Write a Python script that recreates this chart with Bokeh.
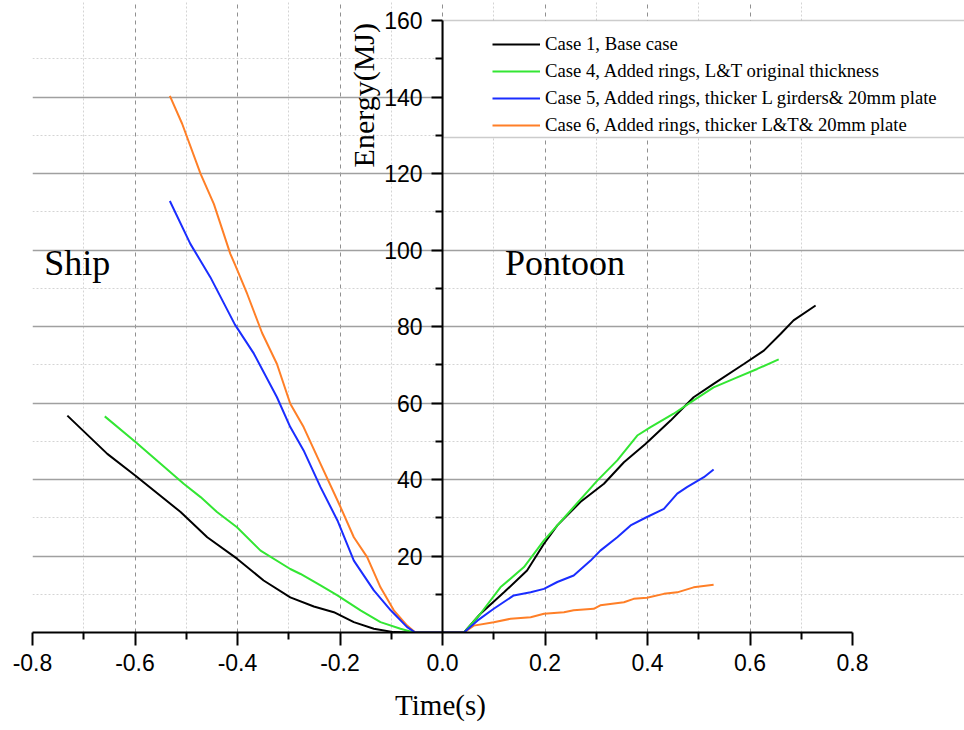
import math
from bokeh.plotting import figure
from bokeh.models import (Range1d, FixedTicker, PrintfTickFormatter, Legend, LegendItem,
                          Label, BoxAnnotation)
from bokeh.embed import file_html
from bokeh.resources import INLINE

# ---------------- data ----------------
case1_x = [-0.732, -0.654, -0.599, -0.511, -0.459, -0.401, -0.349, -0.297, -0.251, -0.212,
           -0.173, -0.134, -0.095, -0.056, 0.042, 0.074, 0.120, 0.165, 0.198, 0.224, 0.269,
           0.315, 0.354, 0.396, 0.445, 0.490, 0.529, 0.588, 0.627, 0.660, 0.685, 0.728]
case1_y = [56.7, 46.7, 41.0, 31.5, 24.9, 19.3, 13.6, 9.2, 6.8, 5.3,
           2.7, 1.0, 0.1, 0.0, 0.0, 4.9, 10.5, 16.2, 23.2, 28.0, 34.1,
           38.9, 44.5, 49.3, 55.4, 61.5, 65.0, 70.2, 73.7, 78.1, 81.6, 85.5]

case4_x = [-0.659, -0.599, -0.550, -0.505, -0.472, -0.440, -0.401, -0.355, -0.297, -0.277,
           -0.238, -0.205, -0.160, -0.121, -0.082, -0.056, 0.042, 0.074, 0.113, 0.159, 0.198,
           0.250, 0.302, 0.341, 0.380, 0.406, 0.451, 0.490, 0.529, 0.575, 0.614, 0.656]
case4_y = [56.5, 49.8, 44.1, 38.9, 35.4, 31.5, 27.5, 21.4, 16.6, 15.3,
           12.3, 9.7, 5.8, 2.7, 1.0, 0.0, 0.0, 4.9, 11.8, 17.1, 24.1,
           31.9, 39.7, 45.0, 51.5, 53.7, 57.2, 60.7, 64.1, 66.7, 68.9, 71.4]

case5_x = [-0.532, -0.492, -0.453, -0.405, -0.368, -0.323, -0.297, -0.271, -0.238, -0.205,
           -0.173, -0.134, -0.101, -0.069, -0.053, 0.042, 0.068, 0.100, 0.139, 0.172, 0.198,
           0.224, 0.256, 0.289, 0.308, 0.341, 0.367, 0.396, 0.432, 0.458, 0.477, 0.510, 0.529]
case5_y = [112.8, 101.6, 92.9, 80.5, 72.9, 61.5, 53.7, 47.6, 38.0, 29.3,
           18.8, 11.0, 5.8, 1.4, 0.0, 0.0, 3.1, 6.2, 9.7, 10.5, 11.4,
           13.2, 14.9, 18.8, 21.4, 24.9, 28.0, 30.0, 32.3, 36.3, 38.0, 40.6, 42.6]

case6_x = [-0.532, -0.508, -0.472, -0.446, -0.414, -0.404, -0.381, -0.352, -0.323, -0.297,
           -0.271, -0.238, -0.199, -0.173, -0.147, -0.121, -0.095, -0.069, -0.053, 0.042,
           0.061, 0.100, 0.133, 0.172, 0.198, 0.237, 0.256, 0.295, 0.308, 0.354, 0.373,
           0.399, 0.432, 0.458, 0.490, 0.529]
case6_y = [140.3, 133.0, 119.9, 112.0, 99.0, 95.9, 88.5, 78.3, 70.2, 59.8,
           53.7, 44.1, 32.8, 24.9, 19.7, 11.8, 5.8, 1.8, 0.0, 0.0,
           1.8, 2.7, 3.6, 4.0, 4.9, 5.3, 5.8, 6.2, 7.1, 7.9, 8.8,
           9.1, 10.1, 10.5, 11.8, 12.5]

labels = ["Case 1, Base case",
          "Case 4, Added rings, L&T original thickness",
          "Case 5, Added rings, thicker L girders& 20mm plate",
          "Case 6, Added rings, thicker L&T& 20mm plate"]
colors = ["#000000", "#33e633", "#1a2dff", "#ff7f27"]

x_major = [-0.8, -0.6, -0.4, -0.2, 0.0, 0.2, 0.4, 0.6, 0.8]
x_minor = [-0.7, -0.5, -0.3, -0.1, 0.1, 0.3, 0.5, 0.7]
y_major = [20, 40, 60, 80, 100, 120, 140, 160]
y_minor = [10, 30, 50, 70, 90, 110, 130, 150]
xgrid_major = [-0.6, -0.4, -0.2, 0.0, 0.2, 0.4, 0.6]
ygrid_major = [20, 40, 60, 80, 100, 120, 140]

X_MIN, X_MAX = -0.8, 0.8
Y_MIN, Y_MAX = 0, 160

# ---------------- figure ----------------
# the frame runs to the right and top edges so the legend and the "160" label are not clipped;
# axis bounds (and therefore the grids) stop at the data limits
p = figure(width=964, height=730, output_backend="svg", toolbar_location=None,
           x_range=Range1d(X_MIN, X_MIN + 932 / 512.5), y_range=Range1d(Y_MIN, Y_MAX + 20 / 3.825),
           min_border_left=32, min_border_right=0, min_border_top=0, min_border_bottom=98)
p.outline_line_color = None
p.background_fill_color = "white"

# x axis
xa = p.xaxis[0]
xa.bounds = (X_MIN, X_MAX)
xa.ticker = FixedTicker(ticks=x_major, minor_ticks=x_minor)
xa.formatter = PrintfTickFormatter(format="%.1f")
xa.axis_line_width = 2
xa.axis_line_color = "black"
xa.major_tick_line_width = 2
xa.minor_tick_line_width = 2
xa.major_tick_out = 13
xa.major_tick_in = 0
xa.minor_tick_out = 7
xa.minor_tick_in = 0
xa.major_label_text_font = "Liberation Sans"
xa.major_label_text_font_size = "23px"
xa.major_label_text_color = "black"
xa.major_label_standoff = 8
# the axis title is centred on the (wider) frame; trailing no-break spaces move the
# visible text so that it is centred under x = 0 as in the reference
xa.axis_label = "Time(s)" + "\u00a0" * 16
xa.axis_label_text_font = "Liberation Serif"
xa.axis_label_text_font_size = "29px"
xa.axis_label_text_font_style = "normal"
xa.axis_label_text_color = "black"
xa.axis_label_standoff = 15

# y axis at x = 0
ya = p.yaxis[0]
ya.fixed_location = 0
ya.bounds = (Y_MIN, Y_MAX)
ya.ticker = FixedTicker(ticks=y_major, minor_ticks=y_minor)
ya.axis_line_width = 2
ya.axis_line_color = "black"
ya.major_tick_line_width = 2
ya.minor_tick_line_width = 2
ya.major_tick_out = 11
ya.major_tick_in = 0
ya.minor_tick_out = 7
ya.minor_tick_in = 0
ya.major_label_text_font = "Liberation Sans"
ya.major_label_text_font_size = "23px"
ya.major_label_text_color = "black"
ya.major_label_standoff = 9

# grids
p.xgrid.ticker = FixedTicker(ticks=xgrid_major, minor_ticks=x_minor)
p.xgrid.grid_line_color = "#909090"
p.xgrid.grid_line_dash = "4 4"
p.xgrid.grid_line_width = 1
p.xgrid.minor_grid_line_color = "#d4d4d4"
p.xgrid.minor_grid_line_dash = "2 2"
p.xgrid.minor_grid_line_width = 1

p.ygrid.ticker = FixedTicker(ticks=ygrid_major, minor_ticks=y_minor)
p.ygrid.grid_line_color = "#a0a0a0"
p.ygrid.grid_line_width = 1.5
p.ygrid.minor_grid_line_color = "#d4d4d4"
p.ygrid.minor_grid_line_dash = "2 2"
p.ygrid.minor_grid_line_width = 1

# lines
r1 = p.line(case1_x, case1_y, line_color=colors[0], line_width=2)
r4 = p.line(case4_x, case4_y, line_color=colors[1], line_width=2)
r6 = p.line(case6_x, case6_y, line_color=colors[3], line_width=2)
r5 = p.line(case5_x, case5_y, line_color=colors[2], line_width=2)

# legend frame
p.add_layout(BoxAnnotation(left=0.001, right=X_MAX + 1.0, top=Y_MAX, bottom=129.4,
                           fill_color="white", fill_alpha=1.0,
                           line_color="#555555", line_width=1.5, level="glyph"))

legend = Legend(items=[LegendItem(label=labels[0], renderers=[r1]),
                       LegendItem(label=labels[1], renderers=[r4]),
                       LegendItem(label=labels[2], renderers=[r5]),
                       LegendItem(label=labels[3], renderers=[r6])],
                location=(455, 491), margin=0, padding=5, spacing=5,
                glyph_width=48, glyph_height=22, label_height=22, label_standoff=5,
                label_text_font="Liberation Serif", label_text_font_size="18.7px",
                label_text_color="black",
                border_line_alpha=0, background_fill_alpha=0)
p.add_layout(legend)

# texts
p.add_layout(Label(x=-0.777, y=96.7, text="Ship", text_font="Liberation Serif",
                   text_font_size="36px", text_color="black", text_baseline="alphabetic"))
p.add_layout(Label(x=0.122, y=96.5, text="Pontoon", text_font="Liberation Serif",
                   text_font_size="36px", text_color="black", text_baseline="alphabetic"))
p.add_layout(Label(x=-0.154, y=121.6, text="Energy(MJ)", angle=math.pi / 2,
                   text_font="Liberation Serif", text_font_size="30px", text_color="black",
                   text_align="left", text_baseline="alphabetic"))

open("out.html", "w").write(file_html(p, INLINE))
